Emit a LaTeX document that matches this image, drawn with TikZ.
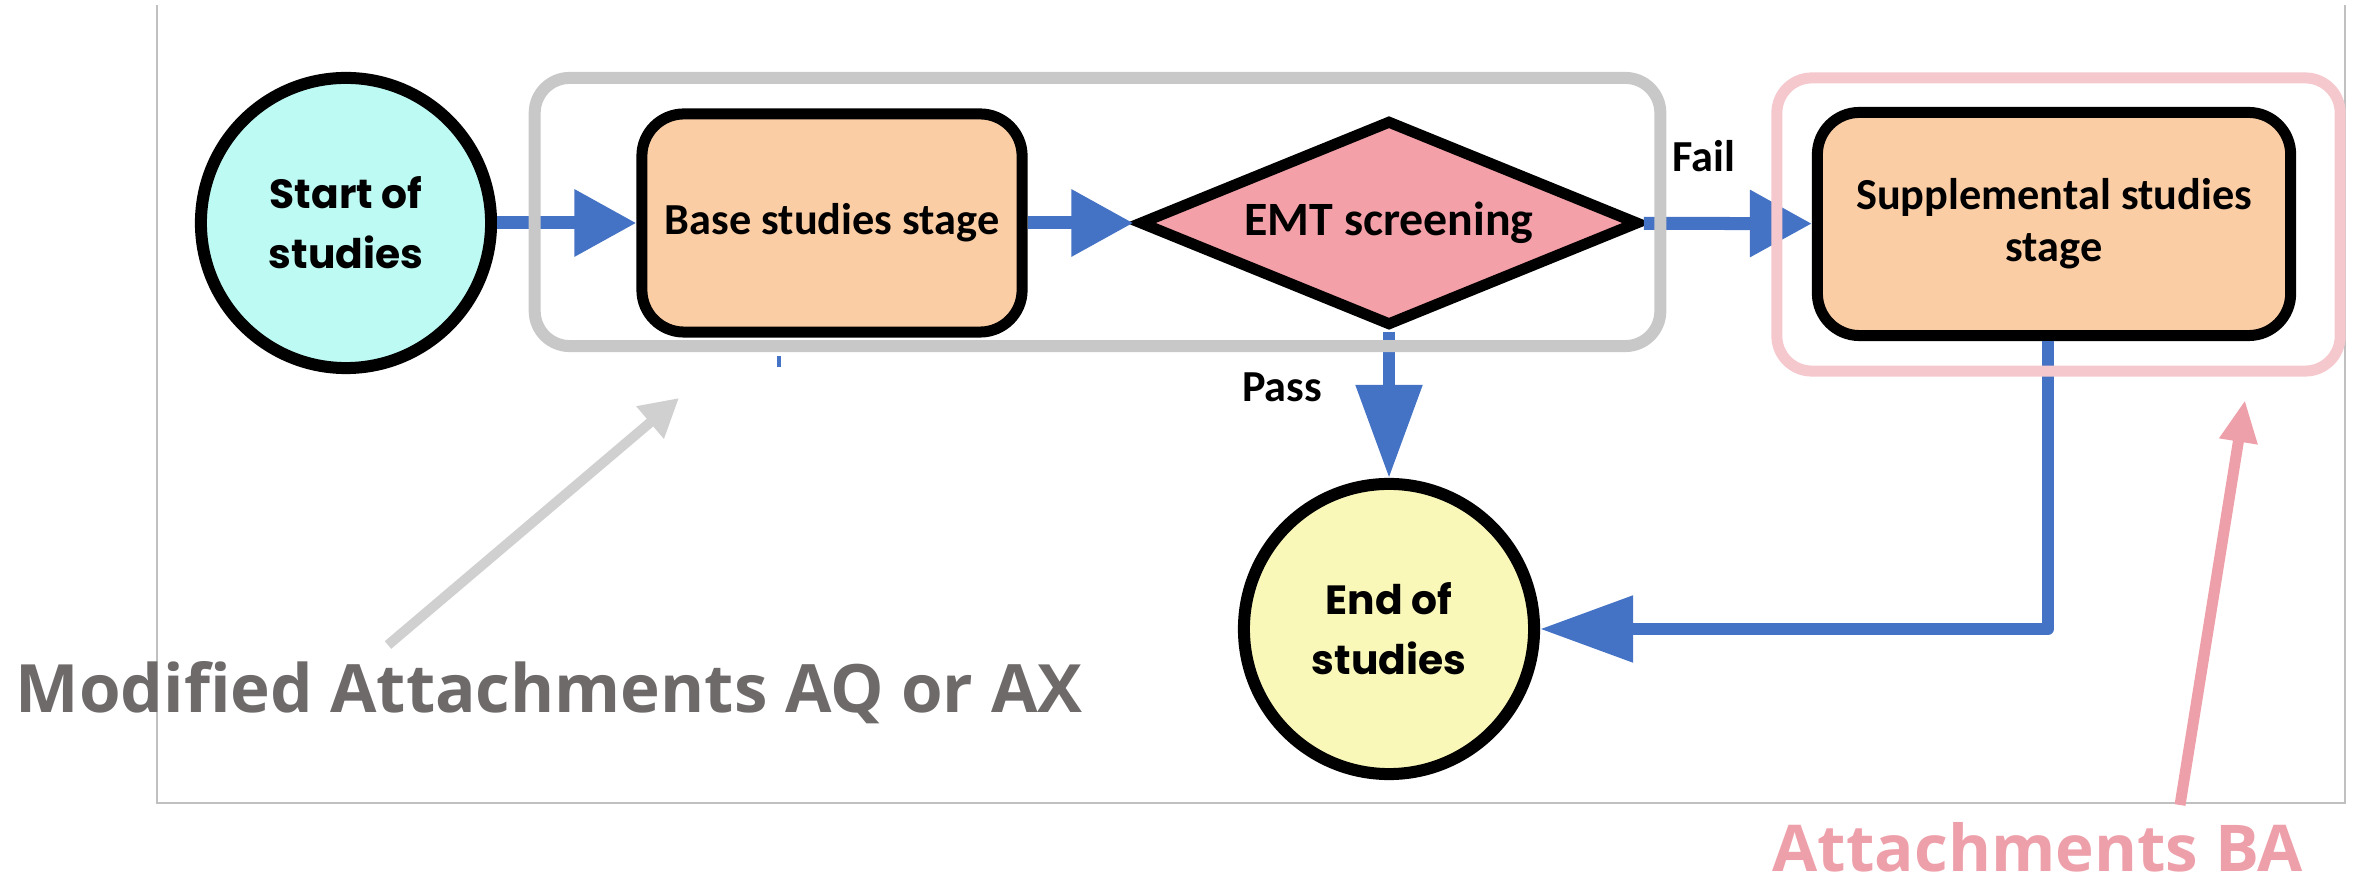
\documentclass[tikz,border=0pt]{standalone}
\usepackage{fontspec}
\setmainfont{Carlito}
\newfontfamily\roundfont{Poppins}
\newfontfamily\calloutfont{Open Sans}
\usetikzlibrary{arrows.meta,shapes.geometric}

\definecolor{flowblue}{HTML}{4472C4}
\definecolor{peach}{HTML}{FBCDA5}
\definecolor{aqua}{HTML}{BEFAF4}
\definecolor{paleyellow}{HTML}{FAF8B9}
\definecolor{rosefill}{HTML}{F3A0A8}
\definecolor{groupgray}{HTML}{C8C8C8}
\definecolor{grouppink}{HTML}{F5C8CE}
\definecolor{calloutgray}{HTML}{6E6A6A}
\definecolor{pointergray}{HTML}{D0D0D0}
\definecolor{calloutpink}{HTML}{EEA0AA}
\definecolor{framegray}{HTML}{C0C0C0}

\tikzset{
  terminal/.style={circle, draw=black, line width=0.12cm, minimum size=2.9cm,
    inner sep=0pt, align=center,
    font=\roundfont\bfseries\fontsize{11.6pt}{17pt}\selectfont},
  stagebox/.style={rectangle, rounded corners=0.42cm, draw=black, fill=peach,
    line width=0.11cm, inner sep=0pt, align=center,
    font=\bfseries\fontsize{12.6pt}{14.8pt}\selectfont},
  decision/.style={diamond, aspect=2.4, draw=black, fill=rosefill,
    line width=0.11cm, inner sep=0pt, minimum width=5.0cm, minimum height=2.06cm,
    font=\bfseries\fontsize{13.6pt}{16pt}\selectfont},
  flow/.style={draw=flowblue, line width=0.13cm,
    -{Triangle[length=0.62cm, width=0.64cm]}},
  flowlong/.style={draw=flowblue, line width=0.12cm, line join=round,
    -{Triangle[length=0.93cm, width=0.64cm]}},
  edgelabel/.style={font=\bfseries\fontsize{12.6pt}{15pt}\selectfont, inner sep=0pt},
  groupbox/.style={rectangle, rounded corners=0.35cm, line width=0.12cm,
    inner sep=0pt, fill=none},
  callout/.style={font=\calloutfont\bfseries, inner sep=0pt},
}

\begin{document}
\begin{tikzpicture}[x=0.01cm, y=-0.01cm]
\useasboundingbox (0,0) rectangle (2361,886);

% open frame around the flowchart
\draw[framegray, line width=0.02cm] (157,5) -- (157,803) -- (2345,803) -- (2345,5);

% flowchart nodes
\node[terminal, fill=aqua] (start) at (346,223) {Start of\\studies};
\node[stagebox, minimum width=3.8cm, minimum height=2.18cm] (base) at (832,223) {Base studies stage};
\node[decision] (emt) at (1389,223) {EMT screening};
\node[stagebox, minimum width=4.73cm, minimum height=2.23cm] (supp) at (2054,224) {Supplemental studies\\stage};
\node[terminal, fill=paleyellow] (end) at (1389,629) {End of\\studies};

% connectors
\draw[flow] (start) -- (base);
\draw[flow] (base) -- (emt);
\draw[flow] (emt) -- (supp);
\draw[flowlong] (emt) -- (end);
\coordinate (bend) at (2048,629);
\draw[flowlong] (bend |- supp.south) -- (bend) -- (end);

\node[edgelabel, anchor=base] (faillbl) at (1704,172) {Fail};
\node[edgelabel, anchor=base] (passlbl) at (1282,402) {Pass};

% grouping outlines
\node[groupbox, draw=groupgray, minimum width=11.25cm, minimum height=2.68cm] (grpbase) at (1097.5,212) {};
\node[groupbox, draw=grouppink, line width=0.11cm, minimum width=5.63cm, minimum height=2.93cm] (grpsupp) at (2058.5,224.5) {};

% callouts
\coordinate (gtail) at (388,645);
\coordinate (gtip) at (679,398);
\draw[pointergray, line width=0.10cm, -{Triangle[length=0.38cm, width=0.40cm]}] (gtail) -- (gtip);
\coordinate (ptail) at (2180,805);
\coordinate (ptip) at (2245,400);
\draw[calloutpink, line width=0.11cm, -{Triangle[length=0.42cm, width=0.36cm]}] (ptail) -- (ptip);

\node[callout, text=calloutgray, anchor=base west] (modlabel) at (15,713)
  {\resizebox{10.66cm}{0.51cm}{Modified Attachments AQ or AX}};
\node[callout, text=calloutpink, anchor=base west] (balabel) at (1772,871)
  {\resizebox{5.30cm}{0.49cm}{Attachments BA}};

% stray mark below the base stage
\fill[flowblue] (777,356) rectangle (781,367);
\end{tikzpicture}
\end{document}
